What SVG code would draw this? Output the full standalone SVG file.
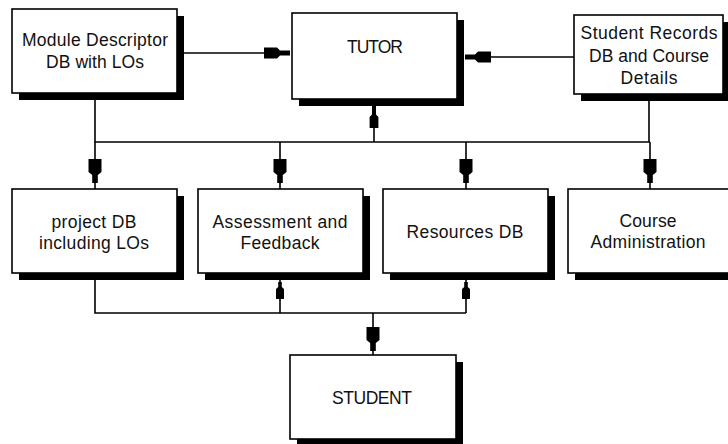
<svg xmlns="http://www.w3.org/2000/svg" xmlns:xlink="http://www.w3.org/1999/xlink" width="728" height="444" viewBox="0 0 728 444">
<style>
.box{fill:#fff;stroke:#000;stroke-width:1.6}
.sh{fill:#000}
.t{font-family:"Liberation Sans",Arial,sans-serif;font-size:17.5px;fill:#111;text-anchor:middle}
.ln{stroke:#000;stroke-width:1.6;fill:none}
.ah{fill:#000}
</style>
<defs>
<path id="ahL" d="M0,-2.8 H-8 L-11,-6.5 H-24 V6.5 H-11 L-8,2.8 H0 Z"/>
<path id="ahM" d="M0,-2.5 H-10 L-13,-5.5 H-26 V5.5 H-13 L-10,2.5 H0 Z"/>
<path id="ahS" d="M0,-1.8 H-5 L-7,-4 H-17 V4 H-7 L-5,1.8 H0 Z"/>
</defs>
<rect width="728" height="444" fill="#fff"/>

<g id="connectors">
<path class="ln" d="M177,53 H290"/>
<path class="ln" d="M574,57 H465"/>
<path class="ln" d="M95,93 V142 H650 M649,94 V142"/>
<path class="ln" d="M374,142 V106"/>
<path class="ln" d="M95,142 V189 M280,142 V189 M466,142 V189 M650,142 V189"/>
<path class="ln" d="M95,273 V313 H466 M280,313 V280 M466,313 V280 M373,313 V355"/>
<use class="ah" xlink:href="#ahM" transform="translate(290,53)"/>
<use class="ah" xlink:href="#ahM" transform="translate(465,57) rotate(180)"/>
<use class="ah" xlink:href="#ahM" transform="translate(374,106) rotate(-90) scale(0.85,0.8)"/>
<use class="ah" xlink:href="#ahL" transform="translate(95,183) rotate(90)"/>
<use class="ah" xlink:href="#ahL" transform="translate(280,183) rotate(90)"/>
<use class="ah" xlink:href="#ahL" transform="translate(466,183) rotate(90)"/>
<use class="ah" xlink:href="#ahL" transform="translate(650,183) rotate(90)"/>
<use class="ah" xlink:href="#ahS" transform="translate(280,282) rotate(-90)"/>
<use class="ah" xlink:href="#ahS" transform="translate(466,282) rotate(-90)"/>
<use class="ah" xlink:href="#ahL" transform="translate(373,351) rotate(90)"/>
</g>

<g id="module">
<rect class="sh" x="19" y="16" width="165" height="84"/>
<rect class="box" x="12" y="9" width="165" height="84"/>
<text class="t" x="95" y="46" textLength="146">Module Descriptor</text>
<text class="t" x="95" y="68" textLength="98">DB with LOs</text>
</g>

<g id="tutor">
<rect class="sh" x="299" y="20" width="165" height="86"/>
<rect class="box" x="292" y="13" width="165" height="86"/>
<text class="t" x="375" y="53" textLength="56">TUTOR</text>
</g>

<g id="records">
<rect class="sh" x="581" y="22" width="149" height="79"/>
<rect class="box" x="574" y="15" width="149" height="79"/>
<text class="t" x="649" y="39" textLength="137">Student Records</text>
<text class="t" x="649" y="61.5" textLength="120">DB and Course</text>
<text class="t" x="649" y="84" textLength="57">Details</text>
</g>

<g id="project">
<rect class="sh" x="19" y="196" width="165" height="84"/>
<rect class="box" x="12" y="189" width="165" height="84"/>
<text class="t" x="94" y="228" textLength="85">project DB</text>
<text class="t" x="94" y="249" textLength="110">including LOs</text>
</g>

<g id="assessment">
<rect class="sh" x="205" y="196" width="165" height="84"/>
<rect class="box" x="198" y="189" width="165" height="84"/>
<text class="t" x="280" y="228" textLength="135">Assessment and</text>
<text class="t" x="280" y="249" textLength="79">Feedback</text>
</g>

<g id="resources">
<rect class="sh" x="390" y="196" width="165" height="84"/>
<rect class="box" x="383" y="189" width="165" height="84"/>
<text class="t" x="465" y="238" textLength="117">Resources DB</text>
</g>

<g id="admin">
<rect class="sh" x="575" y="196" width="165" height="84"/>
<rect class="box" x="568" y="189" width="165" height="84"/>
<text class="t" x="648" y="227" textLength="57">Course</text>
<text class="t" x="648" y="248" textLength="115">Administration</text>
</g>

<g id="student">
<rect class="sh" x="297" y="362" width="166" height="84"/>
<rect class="box" x="290" y="355" width="166" height="84"/>
<text class="t" x="372" y="404" textLength="80">STUDENT</text>
</g>
</svg>
